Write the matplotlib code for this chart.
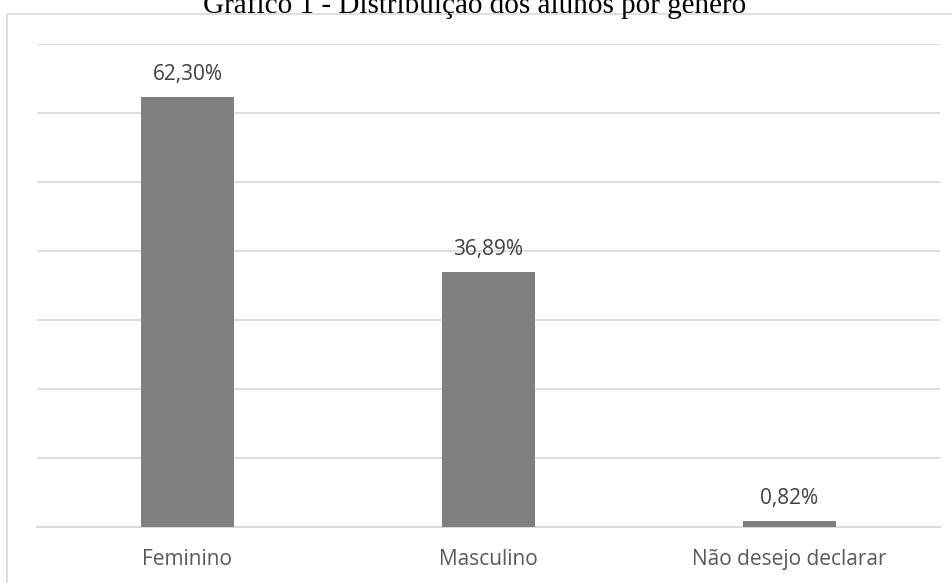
import matplotlib.pyplot as plt
from matplotlib.patches import Rectangle

categorias = ["Feminino", "Masculino", "Não desejo declarar"]
percentuais = [62.30, 36.89, 0.82]
rotulos = ["62,30%", "36,89%", "0,82%"]

W, H = 953, 583

fig = plt.figure(figsize=(W / 100, H / 100), dpi=100)

# moldura do gráfico (corta na direita e embaixo)
fig.patches.append(Rectangle((7 / W, -0.05), 1.2, 1 - 14 / H + 0.05,
                             transform=fig.transFigure, fill=False,
                             edgecolor="#d9d9d9", linewidth=1.2))

fig.text(475 / W, 1 - 13 / H, "Gráfico 1 - Distribuição dos alunos por gênero",
         ha="center", va="baseline", fontsize=21, family="Liberation Serif",
         color="black")

ax = fig.add_axes([37 / W, 1 - 527 / H, (940 - 37) / W, (527 - 44) / H])
x = range(len(categorias))
ax.bar(x, percentuais, width=0.31, color="#7f7f7f", zorder=3)
ax.set_xlim(-0.5, 2.5)
ax.set_ylim(0, 70)
ax.set_yticks(range(0, 71, 10))
ax.yaxis.grid(True, color="#d9d9d9", linewidth=1.3, zorder=0)
ax.tick_params(axis="y", left=False, labelleft=False)
ax.tick_params(axis="x", bottom=False, pad=12)
ax.set_xticks(list(x))
ax.set_xticklabels(categorias, fontsize=15, family="Open Sans", color="#595959")
for s in ["top", "left", "right"]:
    ax.spines[s].set_visible(False)
ax.spines["bottom"].set_color("#d9d9d9")
ax.spines["bottom"].set_linewidth(1.3)

for xi, v, r in zip(x, percentuais, rotulos):
    ax.annotate(r, (xi, v), xytext=(0, 9), textcoords="offset points",
                ha="center", va="bottom", fontsize=15, family="Open Sans",
                color="#404040")

fig.savefig("out.png", dpi=100)
